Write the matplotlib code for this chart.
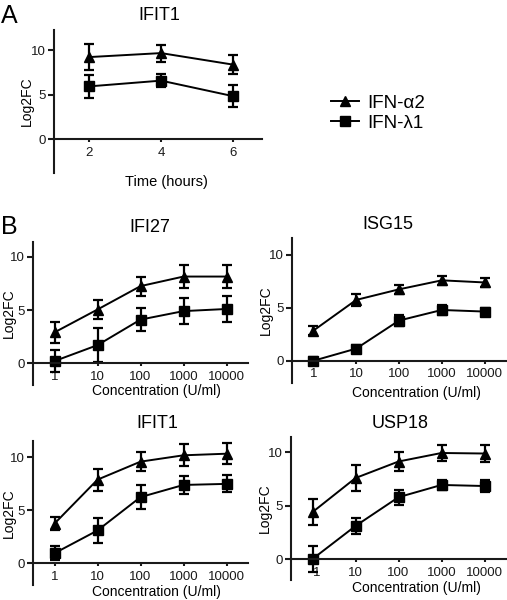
import matplotlib
matplotlib.use('Agg')
import matplotlib.pyplot as plt
from matplotlib.lines import Line2D
import numpy as np

plt.rcParams['font.family'] = ['Liberation Sans', 'DejaVu Sans']

# panel A: time course
time_h = [2, 4, 6]
a_alpha = [9.25, 9.7, 8.4]
a_alpha_err = [1.45, 0.95, 1.1]
a_lambda = [5.95, 6.6, 4.85]
a_lambda_err = [1.25, 0.7, 1.25]

# panel B: dose response
conc = [1, 10, 100, 1000, 10000]
genes = ['IFI27', 'ISG15', 'IFIT1', 'USP18']
alpha_vals = {
    'IFI27': [2.9, 5.05, 7.25, 8.15, 8.15],
    'ISG15': [2.85, 5.75, 6.75, 7.6, 7.4],
    'IFIT1': [3.75, 7.9, 9.6, 10.2, 10.35],
    'USP18': [4.4, 7.6, 9.15, 9.95, 9.9],
}
alpha_err = {
    'IFI27': [1.0, 0.9, 0.9, 1.05, 1.1],
    'ISG15': [0.4, 0.6, 0.4, 0.4, 0.45],
    'IFIT1': [0.6, 1.05, 0.9, 1.05, 1.0],
    'USP18': [1.25, 1.2, 0.85, 0.75, 0.8],
}
lambda_vals = {
    'IFI27': [0.2, 1.7, 4.1, 4.9, 5.1],
    'ISG15': [0.0, 1.15, 3.8, 4.8, 4.65],
    'IFIT1': [0.95, 3.1, 6.25, 7.4, 7.5],
    'USP18': [0.0, 3.1, 5.8, 6.95, 6.85],
}
lambda_err = {
    'IFI27': [1.05, 1.6, 1.1, 1.2, 1.2],
    'ISG15': [0.4, 0.3, 0.5, 0.5, 0.35],
    'IFIT1': [0.65, 1.15, 1.15, 0.85, 0.8],
    'USP18': [1.2, 0.75, 0.7, 0.5, 0.55],
}

W, H = 507, 600
fig = plt.figure(figsize=(W / 100, H / 100), dpi=100)

def make_axes(l, r, t, b):
    return fig.add_axes([l / W, 1 - b / H, (r - l) / W, (b - t) / H])

def style(ax, ylim, box, ylab_x, xlab_xy, title, title_xy):
    l, r, t, b = box
    ax.set_ylim(*ylim)
    ax.spines['top'].set_visible(False)
    ax.spines['right'].set_visible(False)
    ax.spines['bottom'].set_position(('data', 0))
    for s in ('left', 'bottom'):
        ax.spines[s].set_linewidth(1.5)
        ax.spines[s].set_color('#1a1a1a')
    ax.set_yticks([0, 5, 10])
    ax.tick_params(width=1.5, labelsize=9.5, colors='#1a1a1a')
    ax.tick_params(axis='y', length=4, pad=2)
    ax.tick_params(axis='x', length=2.5, pad=3)
    ax.set_ylabel('Log2FC', fontsize=10)
    ax.yaxis.label.set_va('center')
    ax.yaxis.set_label_coords((ylab_x - l) / (r - l), 0.5)
    ax.xaxis.label.set_va('center')
    ax.xaxis.set_label_coords((xlab_xy[0] - l) / (r - l), (b - xlab_xy[1]) / (b - t))
    ax.text((title_xy[0] - l) / (r - l), (b - title_xy[1]) / (b - t), title,
            transform=ax.transAxes, ha='center', va='center', fontsize=13)

def draw(ax, x, y1, e1, y2, e2):
    kw = dict(color='black', lw=1.4, capsize=3.5, elinewidth=1.6, capthick=1.6, markersize=6.5)
    ax.errorbar(x, y1, yerr=e1, marker='^', **kw)
    ax.errorbar(x, y2, yerr=e2, marker='s', **kw)

# panel A
boxA = (54, 262, 30, 173)
axA = make_axes(*boxA)
draw(axA, time_h, a_alpha, a_alpha_err, a_lambda, a_lambda_err)
axA.set_xlim(1.03, 6.8)
axA.set_xticks(time_h)
axA.set_xlabel('Time (hours)', fontsize=10.5)
style(axA, (-3.8, 12.3), boxA, 27, (166, 182), 'IFIT1', (159, 15))
fig.text(1 / W, 1 - 16 / H, 'A', fontsize=18, va='center')

# legend
h1 = Line2D([], [], marker='^', color='black', lw=1.4, markersize=7)
h2 = Line2D([], [], marker='s', color='black', lw=1.4, markersize=6.5)
fig.legend([h1, h2], ['IFN-\u03b12', 'IFN-\u03bb1'], loc='center left',
           bbox_to_anchor=(314 / W, 1 - 113 / H), frameon=False, fontsize=13.5,
           handlelength=1.5, handletextpad=0.45, labelspacing=0.15)

# panel B
boxes = {
    'IFI27': ((33, 248, 242, 385), (-2.05, 11.4), 9, (156, 391), (150, 227)),
    'ISG15': ((292, 506, 238, 383), (-2.1, 11.6), 266, (416, 393), (388, 225)),
    'IFIT1': ((33, 248, 441, 585), (-2.05, 11.55), 9, (156, 592), (157, 423)),
    'USP18': ((291, 506, 437, 580), (-1.97, 11.45), 265, (416, 588), (400, 423)),
}
for g in genes:
    box, yl, lx, xl, tt = boxes[g]
    ax = make_axes(*box)
    draw(ax, conc, alpha_vals[g], alpha_err[g], lambda_vals[g], lambda_err[g])
    ax.set_xscale('log')
    ax.set_xlim(10 ** -0.5, 10 ** 4.5)
    ax.set_xticks(conc)
    ax.set_xticklabels([str(c) for c in conc])
    ax.minorticks_off()
    ax.set_xlabel('Concentration (U/ml)', fontsize=10)
    style(ax, yl, box, lx, xl, g, tt)
    if g == 'USP18':
        # the "1" label sits right of the error bar in the original
        ax.get_xticklabels()[0].set_horizontalalignment('left')
fig.text(1 / W, 1 - 227 / H, 'B', fontsize=18, va='center')

fig.savefig('out.png', dpi=100)
